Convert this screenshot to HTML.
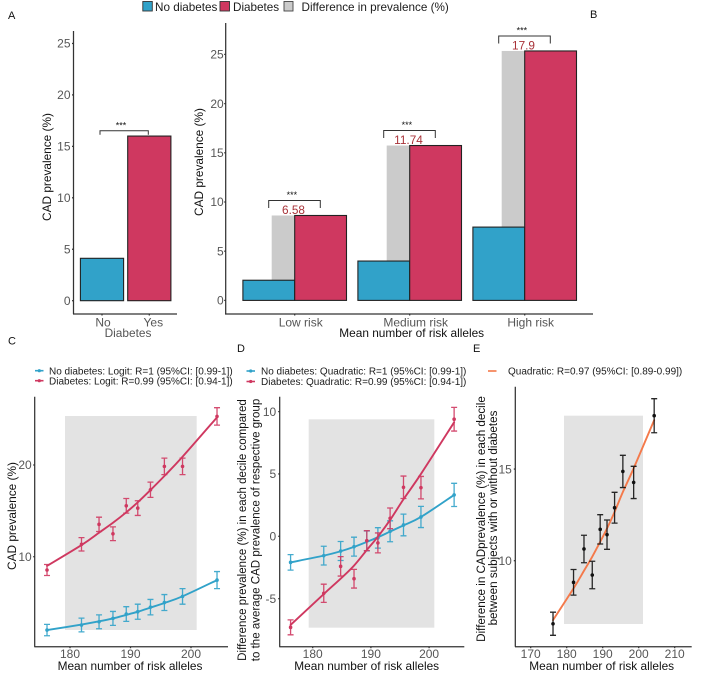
<!DOCTYPE html>
<html lang="en">
<head>
<meta charset="utf-8">
<title>CAD prevalence by diabetes and risk alleles</title>
<style>
html,body{margin:0;padding:0;background:#fff;width:709px;height:678px;overflow:hidden}
svg{display:block;font-family:"Liberation Sans",Arial,sans-serif;filter:blur(0.3px)}
.tick{font-size:12px;fill:#565656}
.title{font-size:11.85px;fill:#111}
.letter{font-size:11px;fill:#111}
.leg{font-size:10px;fill:#1c1c1c}
.top{font-size:11.7px;fill:#1c1c1c}
.axis{stroke:#333;stroke-width:1.25;fill:none}
</style>
</head>
<body>
<svg id="chart" width="709" height="678" viewBox="0 0 709 678" xmlns="http://www.w3.org/2000/svg">
  <rect x="0" y="0" width="709" height="678" fill="#fff"/>
  <g id="bars-a"></g>
  <g id="bars-b"></g>
  <g id="panel-c"></g>
  <g id="panel-d"></g>
  <g id="panel-e"></g>

  <g>
    <rect x="142.8" y="1.5" width="9.5" height="9.5" fill="#31a2c9" stroke="#333" stroke-width="0.9"/>
    <text class="top" x="155" y="11">No diabetes</text>
    <rect x="220" y="1.5" width="9.5" height="9.5" fill="#cf3860" stroke="#333" stroke-width="0.9"/>
    <text class="top" x="233" y="11">Diabetes</text>
    <rect x="284" y="1.5" width="9" height="9.5" fill="#cbcbcb" stroke="#444" stroke-width="0.9"/>
    <text class="top" x="301.5" y="11">Difference in prevalence (%)</text>
  </g>

  <text class="letter" x="8" y="19">A</text>
  <text class="letter" x="590" y="18">B</text>
  <text class="letter" x="8" y="344.5">C</text>
  <text class="letter" x="237" y="352">D</text>
  <text class="letter" x="473" y="352">E</text>

  <text class="title" transform="translate(51,167) rotate(-90)" text-anchor="middle">CAD prevalence (%)</text>
  <text class="title" x="128" y="337" text-anchor="middle" style="fill:#555">Diabetes</text>
  <text class="title" transform="translate(203,162) rotate(-90)" text-anchor="middle">CAD prevalence (%)</text>
  <text class="title" x="411.7" y="337" text-anchor="middle">Mean number of risk alleles</text>

  <text class="title" transform="translate(16,516) rotate(-90)" text-anchor="middle">CAD prevalence (%)</text>
  <text class="title" x="130" y="670" text-anchor="middle">Mean number of risk alleles</text>
  <text class="title" style="font-size:11.55px" transform="translate(246,530) rotate(-90)" text-anchor="middle">Difference prevalence (%) in each decile compared</text>
  <text class="title" style="font-size:11.55px" transform="translate(259.5,530) rotate(-90)" text-anchor="middle">to the average CAD prevalence of respective group</text>
  <text class="title" x="366.7" y="670" text-anchor="middle">Mean number of risk alleles</text>
  <text class="title" style="font-size:11.65px" transform="translate(485,519) rotate(-90)" text-anchor="middle">Difference in CADprevalence (%) in each decile</text>
  <text class="title" style="font-size:11.65px" transform="translate(497,518) rotate(-90)" text-anchor="middle">between subjects with or without diabetes</text>
  <text class="title" x="601.7" y="670" text-anchor="middle">Mean number of risk alleles</text>

  <g>
    <line x1="35" x2="43.5" y1="370.7" y2="370.7" stroke="#31a2c9" stroke-width="1.6"/>
    <circle cx="39.3" cy="370.7" r="1.6" fill="#31a2c9"/>
    <text class="leg" x="49" y="374.3">No diabetes: Logit: R=1 (95%CI: [0.99-1])</text>
    <line x1="35" x2="43.5" y1="380.7" y2="380.7" stroke="#cf3860" stroke-width="1.6"/>
    <circle cx="39.3" cy="380.7" r="1.6" fill="#cf3860"/>
    <text class="leg" x="49" y="384.3">Diabetes: Logit: R=0.99 (95%CI: [0.94-1])</text>
  </g>
  <g>
    <line x1="246.5" x2="255" y1="371" y2="371" stroke="#31a2c9" stroke-width="1.6"/>
    <circle cx="250.7" cy="371" r="1.6" fill="#31a2c9"/>
    <text class="leg" x="261" y="374.5">No diabetes: Quadratic: R=1 (95%CI: [0.99-1])</text>
    <line x1="246.5" x2="255" y1="381.5" y2="381.5" stroke="#cf3860" stroke-width="1.6"/>
    <circle cx="250.7" cy="381.5" r="1.6" fill="#cf3860"/>
    <text class="leg" x="261" y="385">Diabetes: Quadratic: R=0.99 (95%CI: [0.94-1])</text>
  </g>
  <g>
    <line x1="488" x2="496.5" y1="371" y2="371" stroke="#f4794a" stroke-width="1.6"/>
    <text class="leg" x="508" y="374.5">Quadratic: R=0.97 (95%CI: [0.89-0.99])</text>
  </g>
</svg>

<script>
// ---- Panel A data ----
const aCategories = ['No', 'Yes'];
const aValues = [4.12, 16.0];
const aTicks = [0, 5, 10, 15, 20, 25];
const aSignificance = ['***'];

// ---- Panel B data ----
const bCategories = ['Low risk', 'Medium risk', 'High risk'];
const bNoDiabetes = [2.05, 4.0, 7.45];
const bDiabetes = [8.63, 15.74, 25.35];
const bDifferenceLabels = ['6.58', '11.74', '17.9'];
const bTicks = [0, 5, 10, 15, 20, 25];

// ---- Decile data shared by C, D, E ----
const decileAlleles = [176.2, 181.9, 184.8, 187.1, 189.3, 191.2, 193.3, 195.6, 198.6, 204.3];
const noDiabetesErr = [0.62, 0.75, 0.76, 0.76, 0.8, 0.82, 0.84, 0.87, 0.85, 0.93];
const diabetesErr = [0.6, 0.73, 0.78, 0.75, 0.8, 0.8, 0.83, 0.9, 0.9, 0.95];
const differenceErr = [0.63, 0.7, 0.75, 0.75, 0.8, 0.8, 0.84, 0.88, 0.88, 0.93];

// ---- Panel C data ----
const cNoDiabetes = [2.0, 2.55, 2.9, 3.27, 3.75, 4.0, 4.5, 5.0, 5.67, 7.45];
const cNoDiabetesFit = [2.0, 2.6, 2.95, 3.27, 3.65, 4.0, 4.45, 4.95, 5.68, 7.45];
const cDiabetes = [8.55, 11.35, 13.53, 12.5, 15.55, 15.3, 17.3, 19.85, 19.85, 25.3];
const cDiabetesFit = [9.0, 11.27, 12.62, 13.7, 14.84, 15.93, 17.27, 18.8, 20.9, 25.2];
const cXTicks = [180, 190, 200];
const cYTicks = [10, 20];

// ---- Panel D data ----
const dNoDiabetes = [-2.09, -1.55, -1.18, -0.83, -0.37, -0.13, 0.4, 0.91, 1.55, 3.32];
const dNoDiabetesFit = [-2.09, -1.55, -1.2, -0.85, -0.45, -0.08, 0.38, 0.88, 1.55, 3.32];
const dDiabetes = [-7.3, -4.57, -2.41, -3.4, -0.35, -0.53, 1.44, 3.93, 3.9, 9.39];
const dDiabetesFit = [-7.11, -4.63, -3.4, -2.35, -1.1, -0.03, 1.31, 2.97, 5.0, 9.14];
const dXTicks = [180, 190, 200];
const dYTicks = [-5, 0, 5, 10];

// ---- Panel E data ----
const eDifference = [6.56, 8.82, 10.64, 9.22, 11.71, 11.42, 12.89, 14.87, 14.27, 17.91];
const eDifferenceFit = [6.76, 8.49, 9.45, 10.22, 11.03, 11.76, 12.66, 13.75, 15.04, 17.67];
const eXTicks = [170, 180, 190, 200, 210];
const eYTicks = [10, 15];

// ---- Axis functions ----
const aY = v => 300.7 - v * 10.29;
const aX = i => 102 + i * 47.3;
const bY = v => 300.4 - v * 9.84;
const bX = i => 294.7 + i * 115;
const cX = v => 70 + (v - 180) * 6.05;
const cY = v => 556.7 - (v - 10) * 9.17;
const dX = v => 312.7 + (v - 180) * 5.82;
const dY = v => 536.3 - v * 12.47;
const eX = v => 566.7 + (v - 180) * 3.6;
const eY = v => 560.7 - (v - 10) * 18.33;

const BLUE = '#31a2c9', RED = '#cf3860', GREY = '#cbcbcb', BAND = '#e3e3e3', ORANGE = '#f4794a', BARLINE = '#222';
const NS = 'http://www.w3.org/2000/svg';

function add(parent, tag, attrs, text) {
  const n = document.createElementNS(NS, tag);
  for (const k in attrs) n.setAttribute(k, attrs[k]);
  if (text !== undefined) n.textContent = text;
  parent.appendChild(n);
  return n;
}

function smoothPath(pts) {
  let d = 'M' + pts[0][0] + ',' + pts[0][1];
  for (let i = 0; i < pts.length - 1; i++) {
    const p0 = pts[Math.max(0, i - 1)], p1 = pts[i], p2 = pts[i + 1], p3 = pts[Math.min(pts.length - 1, i + 2)];
    const c1x = p1[0] + (p2[0] - p0[0]) / 6, c1y = p1[1] + (p2[1] - p0[1]) / 6;
    const c2x = p2[0] - (p3[0] - p1[0]) / 6, c2y = p2[1] - (p3[1] - p1[1]) / 6;
    d += ' C' + c1x + ',' + c1y + ' ' + c2x + ',' + c2y + ' ' + p2[0] + ',' + p2[1];
  }
  return d;
}

function drawYAxis(g, ticks, yFn, axisX, top, bottom, gap) {
  const line = add(g, 'line', {class: 'axis', x1: axisX, x2: axisX, y1: top, y2: bottom});
  
  
  ticks.forEach(t => {
    const mark = add(g, 'line', {class: 'axis', x1: axisX - 1.5, x2: axisX, y1: yFn(t), y2: yFn(t)});
    
    
    const label = add(g, 'text', {class: 'tick', x: axisX - gap, y: yFn(t) + 4.2, 'text-anchor': 'end'}, String(t));
    
    
  });
}

function drawXAxisLine(g, left, right, y) {
  const line = add(g, 'line', {class: 'axis', x1: left, x2: right, y1: y, y2: y});
  
  
}

function drawXTick(g, x, labelX, axisY, labelY, text) {
  const mark = add(g, 'line', {class: 'axis', x1: x, x2: x, y1: axisY, y2: axisY + 1.5});
  
  
  const label = add(g, 'text', {class: 'tick', x: labelX, y: labelY, 'text-anchor': 'middle'}, String(text));
  
  
}

function drawBracket(g, x1, x2, y, tip, starsX, stars) {
  const b = add(g, 'path', {d: 'M' + x1 + ',' + (y + tip) + ' V' + y + ' H' + x2 + ' V' + (y + tip), fill: 'none', stroke: '#333', 'stroke-width': 1});
  
  
  const s = add(g, 'text', {x: starsX, y: y - 2.5, 'text-anchor': 'middle', 'font-size': 9, fill: '#111'}, stars);
  
  
}

// ---- Panel A ----
(function () {
  const g = document.getElementById('bars-a');
  drawYAxis(g, aTicks, aY, 73.5, 31, 314, 3);
  drawXAxisLine(g, 73, 177, 314);
  aCategories.forEach((c, i) => {
    const bar = add(g, 'rect', {x: aX(i) - 21.6, y: aY(aValues[i]), width: 43.2, height: aY(0) - aY(aValues[i]), fill: i ? RED : BLUE, stroke: BARLINE, 'stroke-width': 1.1});
    
    
    drawXTick(g, aX(i), aX(i) + (i ? 4 : 1), 314, 326.7, c);
  });
  drawBracket(g, aX(0) - 2, aX(1) - 1, aY(aValues[1]) - 5.3, 4, aX(0) + 19, aSignificance[0]);
})();

// ---- Panel B ----
(function () {
  const g = document.getElementById('bars-b');
  drawYAxis(g, bTicks, bY, 225.7, 23, 314, 2);
  drawXAxisLine(g, 225, 593, 314);
  bCategories.forEach((c, i) => {
    const cx = bX(i);
    const diff = add(g, 'rect', {x: cx - 23, y: bY(bDiabetes[i]), width: 23, height: bY(bNoDiabetes[i]) - bY(bDiabetes[i]), fill: GREY});
    
    
    const blue = add(g, 'rect', {x: cx - 51.8, y: bY(bNoDiabetes[i]), width: 51.8, height: bY(0) - bY(bNoDiabetes[i]), fill: BLUE, stroke: BARLINE, 'stroke-width': 1.1});
    
    
    const red = add(g, 'rect', {x: cx, y: bY(bDiabetes[i]), width: 51.8, height: bY(0) - bY(bDiabetes[i]), fill: RED, stroke: BARLINE, 'stroke-width': 1.1});
    
    
    const lab = add(g, 'text', {x: cx - 1.2, y: bY(bDiabetes[i]) - 1.7, 'text-anchor': 'middle', 'font-size': 11.8, fill: '#a83238'}, bDifferenceLabels[i]);
    
    
    drawBracket(g, cx - 26, cx + 25.6, bY(bDiabetes[i]) - 15, 7.5, cx - 2.8, '***');
    drawXTick(g, cx, cx + 6, 314, 326.7, c);
  });
})();

// ---- Decile panels ----
function drawBand(g, x, y, w, h) {
  const r = add(g, 'rect', {x: x, y: y, width: w, height: h, fill: BAND});
  
  
}

function drawSeries(g, xFn, yFn, vals, fit, errs, color, lineColor, name) {
  const fitPts = decileAlleles.map((a, i) => [xFn(a), yFn(fit[i])]);
  const line = add(g, 'path', {d: smoothPath(fitPts), fill: 'none', stroke: lineColor, 'stroke-width': 1.9, 'stroke-linecap': 'round'});
  
  
  decileAlleles.forEach((a, i) => {
    const x = xFn(a), top = yFn(vals[i] + errs[i]), bot = yFn(vals[i] - errs[i]);
    const err = add(g, 'path', {d: 'M' + x + ',' + top + ' V' + bot + ' M' + (x - 3) + ',' + top + ' H' + (x + 3) + ' M' + (x - 3) + ',' + bot + ' H' + (x + 3), fill: 'none', stroke: color, 'stroke-width': 1.3, 'stroke-opacity': 0.9});
    
    
    const pt = add(g, 'circle', {cx: x, cy: yFn(vals[i]), r: 1.8, fill: color});
    
    
  });
}

(function () {
  const g = document.getElementById('panel-c');
  drawBand(g, 65, 416, 131.7, 214);
  drawYAxis(g, cYTicks, cY, 34.7, 396.7, 646.7, 3);
  drawXAxisLine(g, 34.3, 228, 646.7);
  cXTicks.forEach(t => drawXTick(g, cX(t), cX(t), 646.7, 658, t));
  drawSeries(g, cX, cY, cNoDiabetes, cNoDiabetesFit, noDiabetesErr, BLUE, BLUE, 'no-diabetes');
  drawSeries(g, cX, cY, cDiabetes, cDiabetesFit, diabetesErr, RED, RED, 'diabetes');
})();

(function () {
  const g = document.getElementById('panel-d');
  drawBand(g, 308.7, 419.3, 125.6, 208.4);
  drawYAxis(g, dYTicks, dY, 279.7, 396.7, 646.7, 3.5);
  drawXAxisLine(g, 279.3, 464.3, 646.7);
  dXTicks.forEach(t => drawXTick(g, dX(t), dX(t), 646.7, 658, t));
  drawSeries(g, dX, dY, dNoDiabetes, dNoDiabetesFit, noDiabetesErr, BLUE, BLUE, 'no-diabetes');
  drawSeries(g, dX, dY, dDiabetes, dDiabetesFit, diabetesErr, RED, RED, 'diabetes');
})();

(function () {
  const g = document.getElementById('panel-e');
  drawBand(g, 564, 415.7, 79, 208.3);
  drawYAxis(g, eYTicks, eY, 515.3, 386.7, 646.7, 3.5);
  drawXAxisLine(g, 515, 691.7, 646.7);
  eXTicks.forEach(t => drawXTick(g, eX(t), eX(t), 646.7, 658, t));
  drawSeries(g, eX, eY, eDifference, eDifferenceFit, differenceErr, '#111', ORANGE, 'difference');
})();
</script>
</body>
</html>
